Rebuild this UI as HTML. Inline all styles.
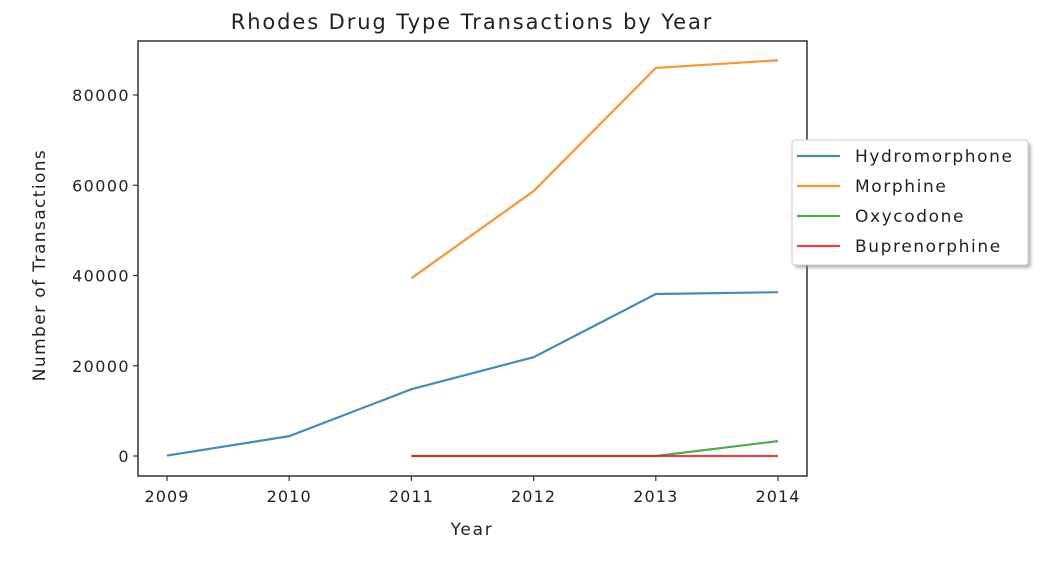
<!DOCTYPE html>
<html><head><meta charset="utf-8"><style>
html,body{margin:0;padding:0;background:#fff;}
svg{display:block;font-family:"DejaVu Sans","Liberation Sans",sans-serif;}
</style></head><body>
<svg id="chart" width="1052" height="564" viewBox="0 0 1052 564">
<defs><filter id="sh" x="-10%" y="-10%" width="130%" height="130%"><feGaussianBlur stdDeviation="1.5"/></filter></defs>
<text x="472" y="29" text-anchor="middle" font-size="21" letter-spacing="1.9" fill="#222">Rhodes Drug Type Transactions by Year</text>
<g id="plot"></g>
<rect x="138" y="41" width="669" height="435" fill="none" stroke="#333" stroke-width="1.5"/>
<text x="472" y="535" text-anchor="middle" font-size="17" letter-spacing="1.7" fill="#222">Year</text>
<text transform="translate(45,265) rotate(-90)" text-anchor="middle" font-size="17" letter-spacing="1.4" fill="#222">Number of Transactions</text>
<g id="legend">
<rect x="795" y="143" width="236" height="125" rx="3" fill="#888" opacity="0.6" filter="url(#sh)"/>
<rect x="792" y="140" width="236" height="125" rx="3" fill="#fff" stroke="#ccc" stroke-width="1"/>
</g>
</svg>
<script>
const years = [2009, 2010, 2011, 2012, 2013, 2014];
const yTicks = [0, 20000, 40000, 60000, 80000];
const seriesNames = ["Hydromorphone", "Morphine", "Oxycodone", "Buprenorphine"];
const seriesColors = ["#1f77b4", "#ff7f0e", "#2ca02c", "#d62728"];
const hydromorphone = [100, 4400, 14800, 21900, 35900, 36300];
const morphine = [null, null, 39400, 58700, 86000, 87700];
const oxycodone = [null, null, 0, 0, 0, 3300];
const buprenorphine = [null, null, 0, 0, 0, 0];
const seriesValues = [hydromorphone, morphine, oxycodone, buprenorphine];

const NS = "http://www.w3.org/2000/svg";
const xs = y => 167 + (y - 2009) * (778 - 167) / 5;
const ys = v => 456 - v * (456 - 95) / 80000;
const plot = document.getElementById("plot");
function mk(tag, attrs, parent) { const e = document.createElementNS(NS, tag); for (const k in attrs) e.setAttribute(k, attrs[k]); parent.appendChild(e); return e; }

years.forEach(y => {
  const t = mk("line", {x1: xs(y), x2: xs(y), y1: 476, y2: 481, stroke: "#333", "stroke-width": 1.2}, plot);
  
  
  const l = mk("text", {x: xs(y), y: 502, "text-anchor": "middle", "font-size": 16, "letter-spacing": 1.1, fill: "#222"}, plot);
  l.textContent = y;
  
  
});
yTicks.forEach(v => {
  const t = mk("line", {x1: 133, x2: 138, y1: ys(v), y2: ys(v), stroke: "#333", "stroke-width": 1.2}, plot);
  
  
  const l = mk("text", {x: 130, y: ys(v) + 6, "text-anchor": "end", "font-size": 16, "letter-spacing": 1.4, fill: "#222"}, plot);
  l.textContent = v;
  
  
});
seriesValues.forEach((vals, i) => {
  const pts = [];
  vals.forEach((v, j) => { if (v !== null) pts.push(xs(years[j]) + "," + ys(v)); });
  const p = mk("polyline", {points: pts.join(" "), fill: "none", stroke: seriesColors[i], "stroke-width": 2.2, opacity: 0.85}, plot);
  
  
});
const lg = document.getElementById("legend");
seriesNames.forEach((n, i) => {
  const y = 156 + i * 30;
  const ln = mk("line", {x1: 797, x2: 840, y1: y, y2: y, stroke: seriesColors[i], "stroke-width": 2.2, opacity: 0.85}, lg);
  
  
  const t = mk("text", {x: 855, y: y + 6, "font-size": 17, "letter-spacing": 1.6, fill: "#222"}, lg);
  t.textContent = n;
  
  
});
</script>
</body></html>
